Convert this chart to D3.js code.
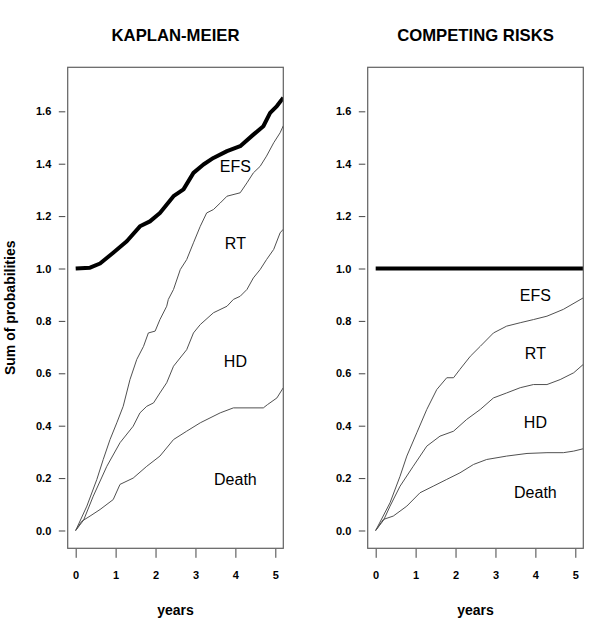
<!DOCTYPE html>
<html><head><meta charset="utf-8">
<script src="https://cdn.jsdelivr.net/npm/d3@7"></script>
<style>body{margin:0;background:#fff}svg{display:block}</style>
</head><body>
<svg id="c" width="600" height="634"></svg>
<script>
const panelTitles = ["KAPLAN-MEIER", "COMPETING RISKS"];
const xTicks = [0, 1, 2, 3, 4, 5];
const yTicks = [0.0, 0.2, 0.4, 0.6, 0.8, 1.0, 1.2, 1.4, 1.6];
const xLabel = "years";
const yLabel = "Sum of probabilities";
const regionLabels = ["EFS", "RT", "HD", "Death"];

// Kaplan-Meier panel (cumulative sums) : [years, value]
const kmDeath = [[0,0],[0.15,0.035],[0.36,0.055],[0.61,0.08],[0.94,0.118],[1.11,0.176],[1.44,0.2],[1.78,0.245],[2.11,0.284],[2.45,0.347],[2.78,0.379],[3.12,0.411],[3.62,0.449],[3.95,0.468],[4.7,0.468],[4.8,0.48],[5.04,0.506],[5.2,0.545]];
const kmHD = [[0,0],[0.2,0.04],[0.44,0.131],[0.78,0.245],[1.11,0.335],[1.44,0.398],[1.61,0.449],[1.78,0.474],[1.95,0.487],[2.11,0.525],[2.28,0.564],[2.45,0.627],[2.78,0.69],[2.95,0.754],[3.12,0.786],[3.45,0.831],[3.79,0.856],[3.95,0.882],[4.12,0.894],[4.29,0.92],[4.45,0.964],[4.62,0.996],[4.78,1.034],[4.96,1.073],[5.12,1.136],[5.2,1.15]];
const kmRT = [[0,0],[0.28,0.093],[0.53,0.195],[0.69,0.271],[0.86,0.347],[1.03,0.411],[1.19,0.474],[1.36,0.576],[1.53,0.653],[1.7,0.703],[1.82,0.754],[1.99,0.761],[2.11,0.805],[2.28,0.856],[2.32,0.882],[2.45,0.92],[2.62,0.996],[2.78,1.034],[2.95,1.098],[3.12,1.161],[3.28,1.212],[3.45,1.225],[3.62,1.25],[3.79,1.276],[4.12,1.289],[4.29,1.327],[4.45,1.365],[4.62,1.39],[4.78,1.429],[4.96,1.48],[5.12,1.518],[5.2,1.545]];
const kmTotal = [[0,1.0],[0.36,1.003],[0.61,1.019],[0.94,1.06],[1.28,1.104],[1.61,1.161],[1.86,1.18],[2.11,1.212],[2.45,1.276],[2.7,1.302],[2.95,1.365],[3.2,1.397],[3.45,1.422],[3.79,1.448],[4.12,1.467],[4.45,1.511],[4.7,1.543],[4.87,1.594],[5.04,1.62],[5.2,1.652]];
const kmLabelPos = [[4.0,1.39],[4.0,1.095],[4.0,0.646],[4.0,0.195]];

// Competing risks panel (cumulative incidences stacked)
const crDeath = [[0,0],[0.19,0.042],[0.44,0.055],[0.78,0.093],[1.11,0.144],[1.44,0.169],[1.78,0.195],[2.11,0.22],[2.45,0.252],[2.78,0.271],[3.28,0.284],[3.79,0.294],[4.29,0.297],[4.7,0.297],[4.96,0.303],[5.2,0.312]];
const crHD = [[0,0],[0.2,0.04],[0.36,0.093],[0.61,0.169],[0.94,0.245],[1.28,0.322],[1.61,0.36],[1.95,0.379],[2.28,0.424],[2.62,0.462],[2.95,0.506],[3.28,0.525],[3.62,0.545],[3.95,0.557],[4.29,0.557],[4.62,0.576],[4.96,0.602],[5.2,0.634]];
const crRT = [[0,0],[0.36,0.106],[0.61,0.207],[0.78,0.284],[1.03,0.373],[1.28,0.462],[1.53,0.538],[1.78,0.583],[1.95,0.583],[2.11,0.615],[2.37,0.665],[2.62,0.703],[2.95,0.754],[3.28,0.78],[3.62,0.793],[3.95,0.805],[4.29,0.818],[4.7,0.844],[5.2,0.888]];
const crTotal = [[0,1.0],[5.2,1.0]];
const crLabelPos = [[4.0,0.897],[4.0,0.678],[4.0,0.415],[4.0,0.146]];

const panels = [
  {title: panelTitles[0], thin: [kmDeath, kmHD, kmRT], thick: kmTotal, labels: kmLabelPos, ox: 0, ylab: true},
  {title: panelTitles[1], thin: [crDeath, crHD, crRT], thick: crTotal, labels: crLabelPos, ox: 300, ylab: false}
];

const FONT = "'Liberation Sans', Arial, Helvetica, sans-serif";
const svg = d3.select("#c");

panels.forEach((p, pi) => {
  const left = 67.7 + p.ox, right = 283.3 + p.ox, top = 67.3, bottom = 548.3;
  const x = d3.scaleLinear().domain([-0.2, 5.2]).range([left, right]);
  const y = d3.scaleLinear().domain([-0.068, 1.768]).range([bottom, top]);
  const g = svg.append("g");

  const clipId = "clip" + pi;
  svg.append("clipPath").attr("id", clipId).append("rect")
    .attr("x", left).attr("y", top).attr("width", right - left).attr("height", bottom - top);

  // title
  g.append("text").attr("x", (left + right) / 2).attr("y", 41)
    .attr("text-anchor", "middle").attr("font-family", FONT).attr("font-weight", "bold")
    .attr("font-size", "16.7px").attr("fill", "#000").text(p.title);

  // y axis (ticks only, offset from box)
  const yAxis = d3.axisLeft(y).tickValues(yTicks).tickFormat(d3.format(".1f")).tickSize(6.5).tickPadding(7.5);
  const ya = g.append("g").attr("transform", `translate(${left - 2.4},0)`).call(yAxis);
  ya.select(".domain").remove();
  ya.selectAll("line").attr("stroke", "#444");
  ya.selectAll("text").attr("font-family", FONT).attr("font-weight", "bold").attr("font-size", "11px").attr("fill", "#000");

  // x axis
  const xAxis = d3.axisBottom(x).tickValues(xTicks).tickFormat(d3.format("d")).tickSize(9).tickPadding(13);
  const xa = g.append("g").attr("transform", `translate(0,${bottom + 0.5})`).call(xAxis);
  xa.select(".domain").remove();
  xa.selectAll("line").attr("stroke", "#444");
  xa.selectAll("text").attr("font-family", FONT).attr("font-weight", "bold").attr("font-size", "11px").attr("fill", "#000");

  // x label
  g.append("text").attr("x", (left + right) / 2).attr("y", 615)
    .attr("text-anchor", "middle").attr("font-family", FONT).attr("font-weight", "bold")
    .attr("font-size", "14px").attr("fill", "#000").text(xLabel);

  if (p.ylab) {
    g.append("text").attr("transform", `translate(15,${(top + bottom) / 2}) rotate(-90)`)
      .attr("text-anchor", "middle").attr("font-family", FONT).attr("font-weight", "bold")
      .attr("font-size", "14px").attr("fill", "#000").text(yLabel);
  }

  const line = d3.line().x(d => x(d[0])).y(d => y(d[1])).curve(d3.curveLinear);
  const cg = g.append("g").attr("clip-path", `url(#${clipId})`);
  p.thin.forEach(s => {
    cg.append("path").attr("d", line(s)).attr("fill", "none").attr("stroke", "#505050").attr("stroke-width", 1);
  });
  cg.append("path").attr("d", line(p.thick)).attr("fill", "none").attr("stroke", "#000").attr("stroke-width", 4).attr("stroke-linejoin", "round");

  // region labels
  regionLabels.forEach((t, i) => {
    g.append("text").attr("x", x(p.labels[i][0])).attr("y", y(p.labels[i][1]))
      .attr("dy", "0.36em").attr("text-anchor", "middle").attr("font-family", FONT)
      .attr("font-size", "16px").attr("fill", "#000").text(t);
  });

  // box
  g.append("rect").attr("x", left).attr("y", top).attr("width", right - left).attr("height", bottom - top)
    .attr("fill", "none").attr("stroke", "#606060").attr("stroke-width", 1.2);
});
</script>
</body></html>
